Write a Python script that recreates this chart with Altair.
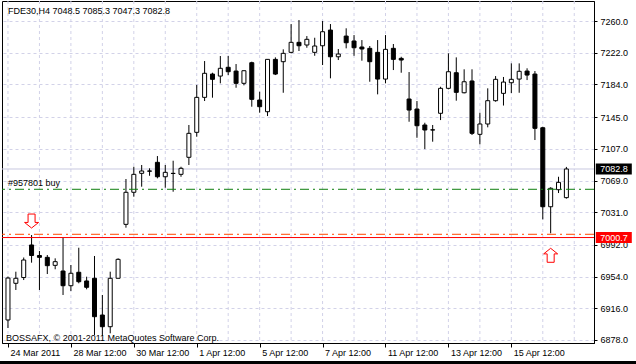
import altair as alt
import pandas as pd

# ---- candle data (H4 bars, FDE30) ----
opens = [6902.0, 6945.9, 6952.8, 6991.8, 6979.2, 6977.0, 6967.4, 6960.6, 6943.0, 6959.1,
         6948.7, 6951.9, 6907.9, 6893.9, 6951.9, 7016.5, 7054.9, 7077.6, 7080.4, 7090.8,
         7073.5, 7077.6, 7076.4, 7096.8, 7126.7, 7168.6, 7196.5, 7194.1, 7204.6, 7200.1,
         7185.4, 7210.1, 7165.4, 7151.4, 7214.1, 7211.3, 7222.5, 7234.5, 7231.3, 7222.5,
         7230.4, 7249.2, 7217.2, 7242.0, 7236.1, 7228.9, 7227.3, 7222.5, 7190.5, 7227.3,
         7215.3, 7166.6, 7154.6, 7135.5, 7129.7, 7149.5, 7179.4, 7198.1, 7174.1, 7188.2,
         7124.3, 7136.7, 7164.6, 7173.4, 7186.1, 7190.5, 7200.1, 7196.5, 7132.2, 7037.6,
         7058.0, 7048.5]
highs = [6954.0, 6959.8, 6976.8, 7003.7, 6984.6, 6979.8, 6975.8, 7001.3, 6967.8, 6988.5,
         6953.8, 6978.6, 6931.9, 6959.8, 6975.8, 7070.8, 7085.5, 7087.6, 7083.6, 7098.3,
         7087.6, 7092.7, 7085.5, 7135.5, 7183.4, 7212.1, 7198.1, 7218.1, 7218.1, 7208.5,
         7200.9, 7211.3, 7175.3, 7214.5, 7216.5, 7226.1, 7256.4, 7261.2, 7242.0, 7240.0,
         7260.0, 7256.4, 7226.5, 7251.3, 7243.2, 7237.2, 7230.1, 7237.2, 7243.2, 7232.5,
         7217.2, 7198.9, 7164.2, 7138.2, 7135.5, 7181.3, 7221.3, 7216.5, 7202.2, 7202.2,
         7150.2, 7179.4, 7194.1, 7193.0, 7209.3, 7209.3, 7203.4, 7200.1, 7133.4, 7060.9,
         7073.5, 7085.3]
lows = [6892.4, 6937.9, 6949.8, 6970.6, 6937.9, 6957.0, 6962.7, 6931.9, 6936.7, 6945.9,
        6938.7, 6884.0, 6882.8, 6886.0, 6951.9, 7012.5, 7049.6, 7061.6, 7074.7, 7071.6,
        7060.4, 7055.6, 7073.5, 7087.6, 7121.4, 7164.2, 7168.2, 7185.4, 7195.3, 7180.1,
        7183.0, 7157.4, 7150.2, 7146.2, 7195.3, 7174.1, 7221.3, 7224.1, 7228.0, 7218.4,
        7207.3, 7191.4, 7213.3, 7227.3, 7218.4, 7212.5, 7187.3, 7172.2, 7185.4, 7201.3,
        7198.1, 7139.4, 7120.2, 7106.7, 7115.5, 7141.4, 7178.2, 7164.6, 7173.4, 7123.5,
        7112.3, 7132.7, 7163.4, 7158.8, 7173.8, 7174.1, 7189.3, 7117.5, 7022.5, 7005.8,
        7054.0, 7047.3]
closes = [6952.2, 6951.9, 6973.8, 6979.2, 6977.0, 6967.0, 6971.8, 6943.0, 6957.9, 6947.8,
          6941.1, 6905.9, 6893.9, 6951.9, 6974.6, 7054.9, 7076.4, 7080.4, 7080.2, 7073.5,
          7078.8, 7077.4, 7083.6, 7125.5, 7168.6, 7197.4, 7190.2, 7203.4, 7199.3, 7185.4,
          7200.5, 7166.2, 7157.4, 7214.1, 7196.5, 7221.3, 7234.5, 7230.4, 7238.1, 7230.1,
          7247.2, 7217.2, 7220.5, 7234.0, 7228.0, 7226.5, 7211.3, 7190.5, 7226.1, 7214.1,
          7213.3, 7153.4, 7134.6, 7129.5, 7129.5, 7179.4, 7199.3, 7174.6, 7187.3, 7125.5,
          7136.7, 7164.6, 7190.2, 7186.9, 7190.2, 7199.8, 7195.3, 7131.5, 7037.6, 7059.7,
          7066.8, 7082.8]

# ---- axes ----
y_ticks = [6878, 6916, 6954, 6992, 7031, 7069, 7107, 7145, 7184, 7222, 7260]
x_tick_idx = [0, 8, 16, 24, 32, 40, 48, 56, 64]
x_tick_labels = ["24 Mar 2011", "28 Mar 12:00", "30 Mar 12:00", "1 Apr 12:00",
                 "5 Apr 12:00", "7 Apr 12:00", "11 Apr 12:00", "13 Apr 12:00",
                 "15 Apr 12:00"]

# ---- annotations ----
header_text = "FDE30,H4  7048.5 7085.3 7047.3 7082.8"
copyright_text = "BOSSAFX, \u00a9 2001-2011 MetaQuotes Software Corp."
order_label = "#957801 buy"
order_price = [7058.5]
level_price = [7004.6]
alert_price = [7000.7]
bid_price = [7082.8]
arrow_down_idx = [3]
arrow_up_idx = [69]

FONT = "Liberation Sans"
GRID = "#d2d2e8"
DASHDOT = [9, 4, 2, 4]

df = pd.DataFrame({"i": list(range(len(opens))), "open": opens, "high": highs,
                   "low": lows, "close": closes})

xscale = alt.Scale(domain=[-0.125, 73.875], nice=False, zero=False)
yscale = alt.Scale(domain=[6874.4, 7284.0], nice=False, zero=False)

labels_js = "[" + ",".join("'" + s + "'" for s in x_tick_labels) + "]"
idx_js = "[" + ",".join(str(v) for v in x_tick_idx) + "]"
xaxis = alt.Axis(values=x_tick_idx, labelExpr=f"{labels_js}[indexof({idx_js}, datum.value)]",
                 grid=False, title=None, labelAlign="left", labelBaseline="top",
                 labelOffset=2, labelPadding=1, tickSize=4, labelFlush=False,
                 labelOverlap=False)
yaxis = alt.Axis(orient="right", values=y_ticks, format=".1f", grid=True,
                 gridDash=[3, 3], gridColor=GRID, title=None, tickSize=3,
                 labelPadding=3, labelAlign="left", labelBaseline="middle", zindex=0)

X = alt.X("i:Q", scale=xscale, axis=xaxis)


def Yf(field):
    return alt.Y(field, scale=yscale, axis=yaxis)


vgrid = alt.Chart(alt.sequence(0, 73, 4, as_="g")).mark_rule(
    color=GRID, strokeDash=[3, 3], strokeWidth=1
).encode(x=alt.X("g:Q", scale=xscale, axis=xaxis))

bid_line = alt.Chart(pd.DataFrame({"p": bid_price})).mark_rule(
    color="#c8c8e0", strokeWidth=1).encode(y=Yf("p:Q"))

wicks = alt.Chart(df).mark_rule(color="black", strokeWidth=1).encode(
    x=X, y=Yf("low:Q"), y2="high:Q")

bodies = alt.Chart(df).mark_bar(width=4, stroke="black", strokeWidth=1).encode(
    x=X, y=Yf("open:Q"), y2="close:Q",
    fill=alt.when(alt.datum.close >= alt.datum.open).then(alt.value("white")).otherwise(alt.value("black")))

order_line = alt.Chart(pd.DataFrame({"p": order_price})).mark_rule(
    color="#0f7f0f", strokeWidth=1, strokeDash=DASHDOT).encode(y=Yf("p:Q"))
level_line = alt.Chart(pd.DataFrame({"p": level_price})).mark_rule(
    color="#ff4500", strokeWidth=1, strokeDash=DASHDOT).encode(y=Yf("p:Q"))
alert_line = alt.Chart(pd.DataFrame({"p": alert_price})).mark_rule(
    color="#ff0000", strokeWidth=1).encode(y=Yf("p:Q"))

DOWN = "M-0.5,-1L0.5,-1L0.5,0.2L1,0.2L0,1L-1,0.2L-0.5,0.2Z"
UP = "M-0.5,1L0.5,1L0.5,-0.2L1,-0.2L0,-1L-1,-0.2L-0.5,-0.2Z"
down_df = pd.DataFrame({"i": arrow_down_idx, "p": [highs[k] for k in arrow_down_idx]})
up_df = pd.DataFrame({"i": arrow_up_idx, "p": [lows[k] for k in arrow_up_idx]})
arrow_down = alt.Chart(down_df).mark_point(
    shape=DOWN, size=196, filled=True, fill="white", stroke="#ff0000",
    strokeWidth=1, opacity=1, yOffset=-14).encode(x=X, y=Yf("p:Q"))
arrow_up = alt.Chart(up_df).mark_point(
    shape=UP, size=196, filled=True, fill="white", stroke="#ff0000",
    strokeWidth=1, opacity=1, yOffset=22).encode(x=X, y=Yf("p:Q"))

header = alt.Chart(pd.DataFrame({"t": [header_text]})).mark_text(
    align="left", baseline="alphabetic", font=FONT, fontSize=9, color="black"
).encode(x=alt.value(6), y=alt.value(12.5), text="t:N")
copyright_mark = alt.Chart(pd.DataFrame({"t": [copyright_text]})).mark_text(
    align="left", baseline="alphabetic", font=FONT, fontSize=9, color="black"
).encode(x=alt.value(4), y=alt.value(340), text="t:N")
order_text = alt.Chart(pd.DataFrame({"p": order_price, "t": [order_label]})).mark_text(
    align="left", baseline="alphabetic", font=FONT, fontSize=9, color="black", dy=-3
).encode(x=alt.value(6), y=Yf("p:Q"), text="t:N")

BOX = "M-1,-0.31L1,-0.31L1,0.31L-1,0.31Z"
bid_box = alt.Chart(pd.DataFrame({"p": bid_price})).mark_point(
    shape=BOX, size=1296, filled=True, fill="black", strokeWidth=0, opacity=1
).encode(x=alt.value(611.8), y=Yf("p:Q"))
bid_txt = alt.Chart(pd.DataFrame({"p": bid_price})).mark_text(
    align="center", baseline="middle", font=FONT, fontSize=9, color="white"
).encode(x=alt.value(612), y=Yf("p:Q"), text=alt.Text("p:Q", format=".1f"))
alert_box = alt.Chart(pd.DataFrame({"p": alert_price})).mark_point(
    shape=BOX, size=1296, filled=True, fill="#ff0000", strokeWidth=0, opacity=1
).encode(x=alt.value(611.8), y=Yf("p:Q"))
alert_txt = alt.Chart(pd.DataFrame({"p": alert_price})).mark_text(
    align="center", baseline="middle", font=FONT, fontSize=9, color="white"
).encode(x=alt.value(612), y=Yf("p:Q"), text=alt.Text("p:Q", format=".1f"))

bottom_bar = alt.Chart(pd.DataFrame({"p": [0]})).mark_rule(
    color="black", strokeWidth=3).encode(
    x=alt.value(-2), x2=alt.value(634), y=alt.value(361.5))

chart = alt.layer(
    vgrid, bid_line, wicks, bodies, order_line, level_line, alert_line,
    arrow_down, arrow_up, header, copyright_mark, order_text,
    bid_box, bid_txt, alert_box, alert_txt, bottom_bar
).properties(
    width=592, height=342,
    padding={"left": 2, "top": 1, "right": 42, "bottom": 21},
    autosize=alt.AutoSizeParams(type="none"),
    background="white",
).configure_view(
    stroke="black", strokeWidth=1
).configure_axis(
    domainColor="black", tickColor="black", labelColor="black",
    labelFont=FONT, labelFontSize=9, domainWidth=1, tickWidth=1
)

chart.save("out.html", embed_options={"renderer": "svg", "actions": False})
